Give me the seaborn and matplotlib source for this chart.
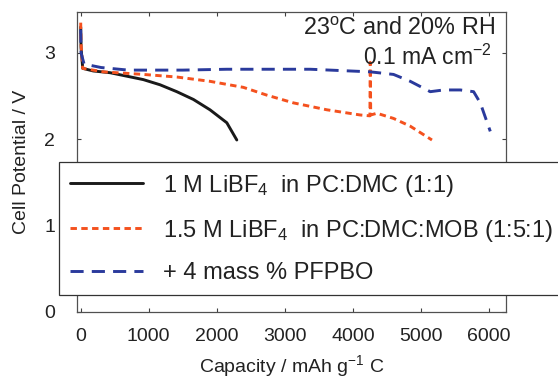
import pandas as pd
import matplotlib
matplotlib.use('Agg')
import matplotlib.pyplot as plt
import seaborn as sns

# discharge curves (capacity in mAh/g C, potential in V)
cap_libf4 = [0, 5, 30, 185, 431, 920, 1166, 1412, 1656, 1900, 2147, 2294]
v_libf4 = [3.30, 3.06, 2.82, 2.79, 2.77, 2.69, 2.63, 2.55, 2.46, 2.34, 2.19, 1.99]

cap_mob = [0, 5, 30, 333, 920, 1412, 1900, 2391, 2735, 3127, 3618, 4107, 4250, 4255, 4262,
           4353, 4597, 4843, 5162]
v_mob = [3.35, 3.10, 2.82, 2.78, 2.75, 2.72, 2.67, 2.60, 2.51, 2.42, 2.34, 2.28, 2.27, 2.89,
         2.28, 2.30, 2.24, 2.15, 1.99]

cap_pfpbo = [0, 5, 50, 300, 700, 1500, 2147, 3372, 4254, 4597, 4843, 5137, 5333, 5578,
             5774, 5872, 6019]
v_pfpbo = [3.27, 3.00, 2.87, 2.83, 2.80, 2.80, 2.81, 2.81, 2.78, 2.75, 2.67, 2.55, 2.57, 2.57,
           2.55, 2.42, 2.09]

labels = ['1 M LiBF$_4$  in PC:DMC (1:1)',
          '1.5 M LiBF$_4$  in PC:DMC:MOB (1:5:1)',
          '+ 4 mass % PFPBO']
colors = ['#1a1a1a', '#F4511E', '#2A3A9C']
dashes = [None, (2.2, 1.5), (4.5, 2.8)]

sns.set_style('ticks')
plt.rcParams['font.family'] = ['Liberation Sans', 'DejaVu Sans']
plt.rcParams['mathtext.default'] = 'regular'

fig = plt.figure(figsize=(5.58, 3.82), dpi=100)
ax = fig.add_axes([77.3 / 558, 1 - 311.7 / 382, (506 - 77.3) / 558, (311.7 - 12.3) / 382])

series = [(cap_libf4, v_libf4), (cap_mob, v_mob), (cap_pfpbo, v_pfpbo)]
for (cap, v), lab, col, ds in zip(series, labels, colors, dashes):
    df = pd.DataFrame({'cap': cap, 'v': v})
    sns.lineplot(data=df, x='cap', y='v', ax=ax, color=col, linewidth=2.1,
                 label=lab, sort=False, estimator=None)
    if ds is not None:
        ax.get_lines()[-1].set_dashes(ds)

ax.set_xlim(-50, 6250)
ax.set_ylim(0, 3.47)
ax.set_xticks([0, 1000, 2000, 3000, 4000, 5000, 6000])
ax.set_yticks([0, 1, 2, 3])
ax.tick_params(direction='in', length=3, width=0.8, top=True, right=True,
               labelsize=14, colors='#404040', labelcolor='#222222')
ax.tick_params(axis='x', pad=11.5)
ax.tick_params(axis='y', pad=16)
for s in ax.spines.values():
    s.set_color('#505050')
    s.set_linewidth(0.9)

ax.set_xlabel('Capacity / mAh g$^{-1}$ C', fontsize=14, color='#222222', labelpad=6)
ax.set_ylabel('Cell Potential / V', fontsize=14, color='#222222', labelpad=10)

ax.text(0.973, 0.945, '23$^{o}$C and 20% RH', transform=ax.transAxes, ha='right', va='center',
        fontsize=16.8, color='#222222')
ax.text(0.967, 0.85, '0.1 mA cm$^{-2}$', transform=ax.transAxes, ha='right', va='center',
        fontsize=16.5, color='#222222')

leg = ax.legend(loc='upper left', bbox_to_anchor=(59 / 558, 1 - 162 / 382),
                bbox_transform=fig.transFigure, fontsize=17, frameon=True, fancybox=False,
                edgecolor='#333333', framealpha=1, handlelength=3.1, handletextpad=0.85,
                borderpad=0.45, labelspacing=0.8, borderaxespad=0)
leg.get_frame().set_linewidth(0.9)
for t in leg.get_texts():
    t.set_color('#222222')

fig.savefig('out.png', dpi=100)
